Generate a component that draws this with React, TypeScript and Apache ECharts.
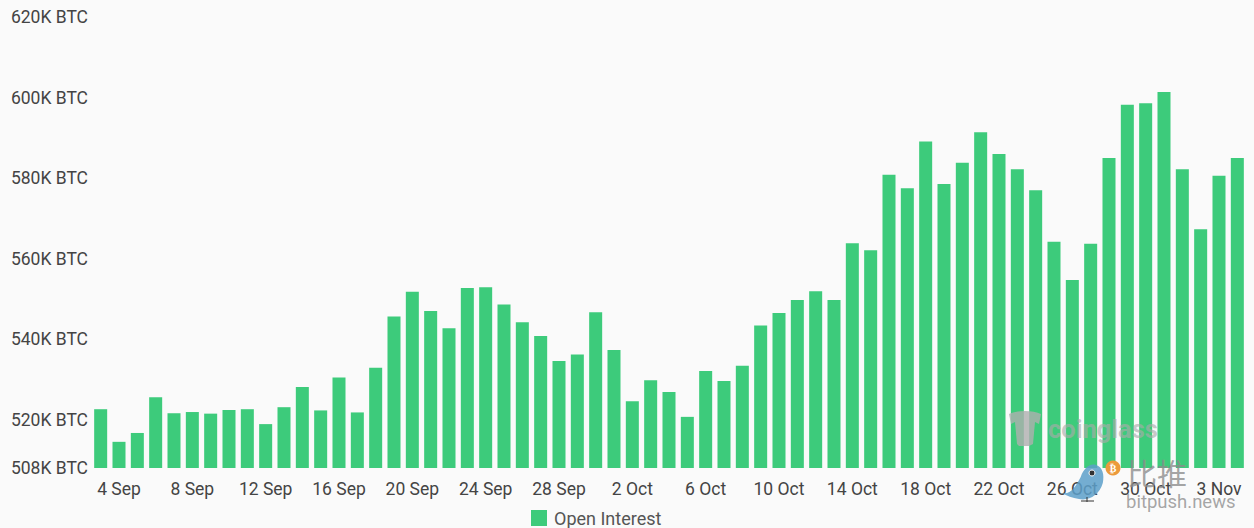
import React, { useEffect, useRef } from "react";
import * as echarts from "echarts";

const seriesName = "Open Interest";
const monthSpans: [string, number, number][] = [
  ["Sep", 3, 30],
  ["Oct", 1, 31],
  ["Nov", 1, 4],
];
const categories: string[] = monthSpans.flatMap(([m, a, b]) => {
  const out: string[] = [];
  for (let d = a; d <= b; d++) out.push(`${d} ${m}`);
  return out;
});
const openInterestK = [
  522.6, 514.5, 516.7, 525.6, 521.6, 521.9, 521.5, 522.4, 522.6, 518.9, 523.1, 528.1, 522.3, 530.5, 521.8, 532.9,
  545.6, 551.8, 547.0, 542.7, 552.7, 552.9, 548.6, 544.2, 540.8, 534.6, 536.2, 546.7, 537.3, 524.6, 529.8, 526.9,
  520.7, 532.1, 529.6, 533.4, 543.4, 546.5, 549.7, 551.9, 549.7, 563.8, 562.1, 580.8, 577.5, 589.1, 578.5, 583.8,
  591.4, 586.0, 582.2, 577.0, 564.2, 554.7, 563.7, 585.0, 598.2, 598.6, 601.4, 582.2, 567.3, 580.6, 585.0,
];
const yTicks = [508, 520, 540, 560, 580, 600, 620];

const FONT = "Roboto, 'Noto Sans', sans-serif";

echarts.graphic.registerShape(
  "cgLogo",
  echarts.graphic.extendPath(
    "M2 4 C10 0 26 0 34 4 L32 14 L28 12 L26 34 L22 36 L12 36 L10 34 L8 12 L4 14 Z",
    {}
  ) as any
);
echarts.graphic.registerShape(
  "birdBody",
  echarts.graphic.extendPath(
    "M0 30 C10 32 16 24 22 14 C26 4 34 0 40 2 C48 4 50 12 48 20 C44 32 32 38 20 36 C12 35 6 33 0 30 Z",
    {}
  ) as any
);

export default function App() {
  const ref = useRef<HTMLDivElement>(null);
  useEffect(() => {
    document.body.style.margin = "0";
    const chart = echarts.init(ref.current!, undefined, { renderer: "svg" });
    chart.setOption({
      animation: false,
      backgroundColor: "#fafafa",
      textStyle: { fontFamily: FONT },
      grid: { left: 91.5, top: 17, width: 1155, height: 451, containLabel: false },
      legend: {
        data: [seriesName],
        top: 509,
        left: 531,
        itemWidth: 16,
        itemHeight: 16,
        itemGap: 7,
        padding: 0,
        icon: "rect",
        textStyle: { color: "#555", fontSize: 18, fontFamily: FONT, padding: [0, 0, 0, 2] },
      },
      xAxis: {
        type: "category",
        data: categories,
        axisLine: { show: false },
        axisTick: { show: false },
        axisLabel: {
          color: "#444",
          fontSize: 17.5,
          fontFamily: FONT,
          margin: 12,
          hideOverlap: false,
          interval: (i: number) => i % 4 === 1,
        },
      },
      yAxis: {
        type: "value",
        min: 508,
        max: 620,
        splitLine: { show: false },
        axisLine: { show: false },
        axisTick: { show: false },
        axisLabel: {
          customValues: yTicks,
          color: "#444",
          fontSize: 17.5,
          fontFamily: FONT,
          margin: 3.5,
          formatter: (v: number) => `${v}K BTC`,
        },
      },
      series: [
        {
          name: seriesName,
          type: "bar",
          data: openInterestK,
          barCategoryGap: "29%",
          itemStyle: { color: "#3dcb7b" },
        },
      ],
      graphic: [
        {
          type: "cgLogo",
          x: 1007,
          y: 410,
          z: 100,
          style: { fill: "rgba(175,175,175,0.8)" },
        },
        {
          type: "text",
          x: 1048,
          y: 416,
          z: 100,
          style: {
            text: "coinglass",
            fill: "rgba(170,170,170,0.65)",
            font: "bold 25.5px Roboto, sans-serif",
          },
        },
        {
          type: "birdBody",
          x: 1062,
          y: 463,
          scaleX: 0.85,
          z: 101,
          style: { fill: "rgba(92,159,201,0.85)" },
        },
        { type: "circle", z: 102, shape: { cx: 1092, cy: 473, r: 3 }, style: { fill: "#333", stroke: "#fff", lineWidth: 1 } },
        { type: "line", z: 101, shape: { x1: 1087, y1: 497, x2: 1087, y2: 502 }, style: { stroke: "#333", lineWidth: 1 } },
        { type: "line", z: 101, shape: { x1: 1081, y1: 501, x2: 1094, y2: 501 }, style: { stroke: "#333", lineWidth: 1 } },
        { type: "circle", z: 102, shape: { cx: 1113, cy: 468, r: 7.5 }, style: { fill: "#ec9a3c" } },
        {
          type: "text",
          x: 1113,
          y: 468,
          z: 103,
          style: { text: "₿", fill: "#fff", font: "bold 10px 'DejaVu Sans'", align: "center", verticalAlign: "middle" },
        },
        {
          type: "text",
          x: 1127,
          y: 457,
          z: 100,
          style: { text: "比推", fill: "rgba(140,140,140,0.8)", font: "30px 'Noto Sans CJK SC'" },
        },
        {
          type: "text",
          x: 1126,
          y: 492,
          z: 100,
          style: { text: "bitpush.news", fill: "rgba(150,150,150,0.85)", font: "18.5px Roboto, sans-serif" },
        },
      ],
    });
    return () => chart.dispose();
  }, []);
  return <div ref={ref} style={{ position: "fixed", left: 0, top: 0, width: 1254, height: 528 }} />;
}
